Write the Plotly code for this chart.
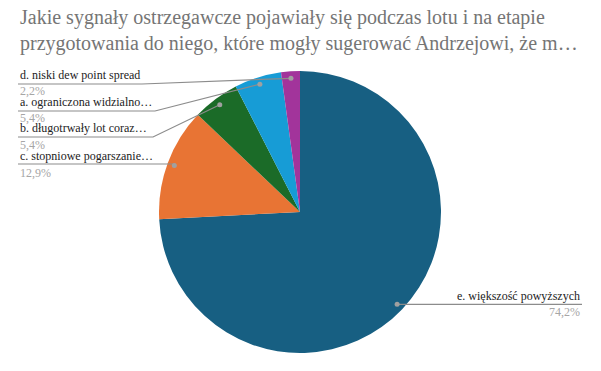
import math
import plotly.graph_objects as go

# ---- data ----
title_lines = [
    "Jakie sygnały ostrzegawcze pojawiały się podczas lotu i na etapie",
    "przygotowania do niego, które mogły sugerować Andrzejowi, że m…",
]
labels = ["e. większość powyższych", "c. stopniowe pogarszanie…",
          "b. długotrwały lot coraz…", "a. ograniczona widzialno…",
          "d. niski dew point spread"]
counts = [69, 12, 5, 5, 2]
pct_text = ["74,2%", "12,9%", "5,4%", "5,4%", "2,2%"]
colors = ["#175f82", "#e87434", "#1b6b28", "#179cd6", "#a2349b"]

# ---- layout constants (pixels) ----
W, H = 601, 371
CX, CY, R = 300, 212, 141
R_DOT = 134
FONT = "Liberation Serif, serif"

def px(x):
    return x / W

def py(y):
    return 1 - y / H

fig = go.Figure(go.Pie(
    labels=labels, values=counts, sort=False, direction="clockwise",
    rotation=0, marker=dict(colors=colors, line=dict(width=0)),
    textinfo="none", hoverinfo="label+percent", showlegend=False,
    domain=dict(x=[px(CX - R), px(CX + R)], y=[py(CY + R), py(CY - R)]),
))

# dot positions from cumulative data
total = sum(counts)
dots = []
cum = 0
for v in counts:
    mid = (cum + v / 2) / total * 2 * math.pi
    dots.append((CX + R_DOT * math.sin(mid), CY - R_DOT * math.cos(mid)))
    cum += v

shapes = []
annotations = []
line_col = "#8c8c8c"

def add_line(pts):
    path = "M " + " L ".join(f"{px(x)},{py(y)}" for x, y in pts)
    shapes.append(dict(type="path", path=path, xref="paper", yref="paper",
                       line=dict(color=line_col, width=1.2)))

def add_dot(x, y):
    r = 2.5
    shapes.append(dict(type="circle", xref="paper", yref="paper",
                       x0=px(x - r), x1=px(x + r), y0=py(y + r), y1=py(y - r),
                       fillcolor="#a0a0a0", line=dict(width=0)))

LBL = 12
# left labels: (index, text y, underline y, pct y, elbow x)
left_rows = [(4, 75, 84, 91, 142), (3, 102, 111, 118, 155),
             (2, 128, 137, 145, 153), (1, 156, 164, 173, None)]
for i, ty, uy, pyy, ex in left_rows:
    dx, dy = dots[i]
    if ex is None:
        add_line([(18, uy), (dx, uy)])
    else:
        add_line([(18, uy), (ex, uy), (dx, dy)])
    add_dot(dx, dy)
    annotations.append(dict(text=labels[i], x=px(18), y=py(ty), xref="paper", yref="paper",
                            xanchor="left", yanchor="middle", showarrow=False,
                            font=dict(family=FONT, size=LBL, color="#222222")))
    annotations.append(dict(text=pct_text[i], x=px(18), y=py(pyy), xref="paper", yref="paper",
                            xanchor="left", yanchor="middle", showarrow=False,
                            font=dict(family=FONT, size=LBL, color="#a6a6a6")))

# right label (e)
dx, dy = dots[0]
add_line([(dx, dy), (582, dy)])
add_dot(dx, dy)
annotations.append(dict(text=labels[0], x=px(582), y=py(dy - 8), xref="paper", yref="paper",
                        xanchor="right", yanchor="middle", showarrow=False,
                        font=dict(family=FONT, size=LBL, color="#222222")))
annotations.append(dict(text=pct_text[0], x=px(582), y=py(dy + 8), xref="paper", yref="paper",
                        xanchor="right", yanchor="middle", showarrow=False,
                        font=dict(family=FONT, size=LBL, color="#a6a6a6")))

# title
annotations.append(dict(text="<br>".join(title_lines), x=px(18), y=py(4), xref="paper", yref="paper",
                        xanchor="left", yanchor="top", align="left", showarrow=False,
                        font=dict(family=FONT, size=20, color="#757575")))

fig.update_layout(
    width=W, height=H, margin=dict(l=0, r=0, t=0, b=0),
    paper_bgcolor="white", plot_bgcolor="white",
    shapes=shapes, annotations=annotations,
)
fig.write_html("out.html", config={"displayModeBar": False},
               post_script="document.body.style.margin='0';")
